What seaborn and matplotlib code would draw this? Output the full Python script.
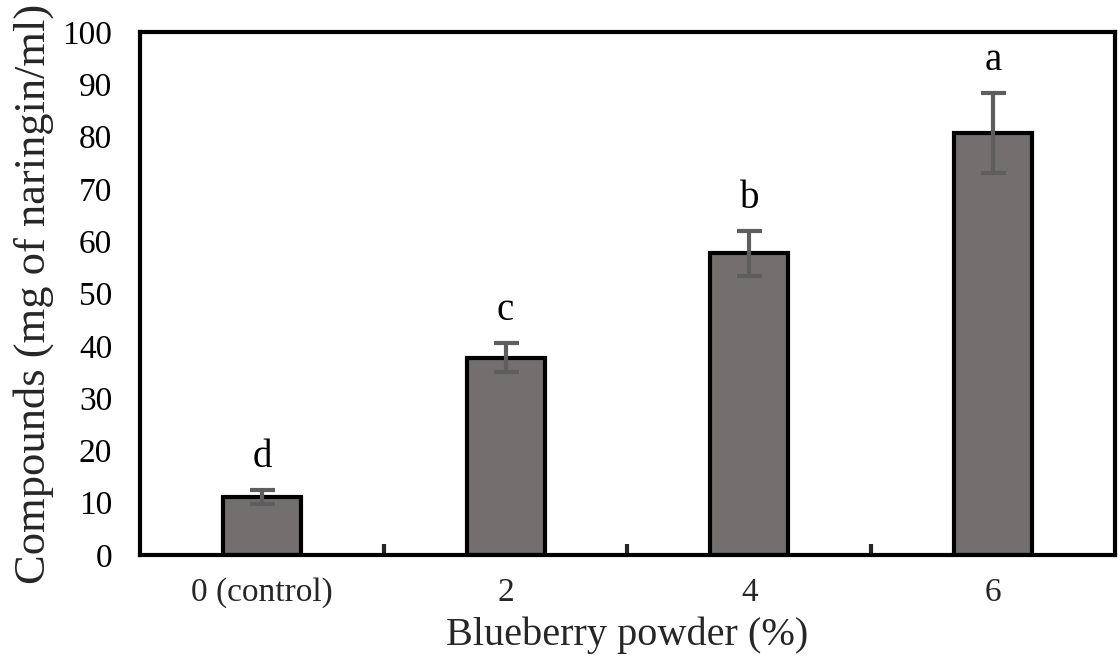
import matplotlib
matplotlib.use("Agg")
import matplotlib.pyplot as plt
import seaborn as sns
import numpy as np
import pandas as pd
from matplotlib.ticker import FixedLocator

categories = ["0 (control)", "2", "4", "6"]
values = [11.1, 37.7, 57.7, 80.7]
errors = [1.4, 2.8, 4.3, 7.6]
letters = ["d", "c", "b", "a"]
yticks = [0, 10, 20, 30, 40, 50, 60, 70, 80, 90, 100]

sns.set_theme(style="white")
plt.rcParams['font.family'] = ['Liberation Serif', 'DejaVu Serif']

df = pd.DataFrame({"cat": categories, "val": values})

fig = plt.figure(figsize=(11.2, 6.58), dpi=100)
ax = fig.add_axes([0.125, 0.1565, 0.8705, 0.795])

sns.barplot(data=df, x="cat", y="val", color="#736f6e", edgecolor="black",
            linewidth=3, width=0.32, errorbar=None, saturation=1, ax=ax)
xs = np.arange(len(categories))
ax.errorbar(xs, values, yerr=errors, fmt="none", ecolor="#5e5e5e",
            elinewidth=3, capsize=9, capthick=3)
for x, v, e, l in zip(xs, values, errors, letters):
    ax.text(x, v + e + 2.7, l, ha="center", va="bottom", fontsize=28, color="black")

ax.set_xlim(-0.5, 3.5)
ax.set_ylim(0, 100)
ax.set_yticks(yticks)
ax.tick_params(axis="y", direction="in", length=7, width=3, labelsize=24, pad=20, colors="black")
ax.xaxis.set_minor_locator(FixedLocator([0.5, 1.5, 2.5]))
ax.tick_params(axis="x", which="major", length=0, labelsize=24, pad=16)
ax.tick_params(axis="x", which="minor", direction="in", length=8, width=3, bottom=True)
for s in ax.spines.values():
    s.set_visible(True)
    s.set_linewidth(3)
    s.set_color("black")
ax.set_xlabel("Blueberry powder (%)", fontsize=29, labelpad=6)
ax.set_ylabel("Compounds (mg of naringin/ml)", fontsize=32, labelpad=6)

fig.savefig("out.png", dpi=100)
